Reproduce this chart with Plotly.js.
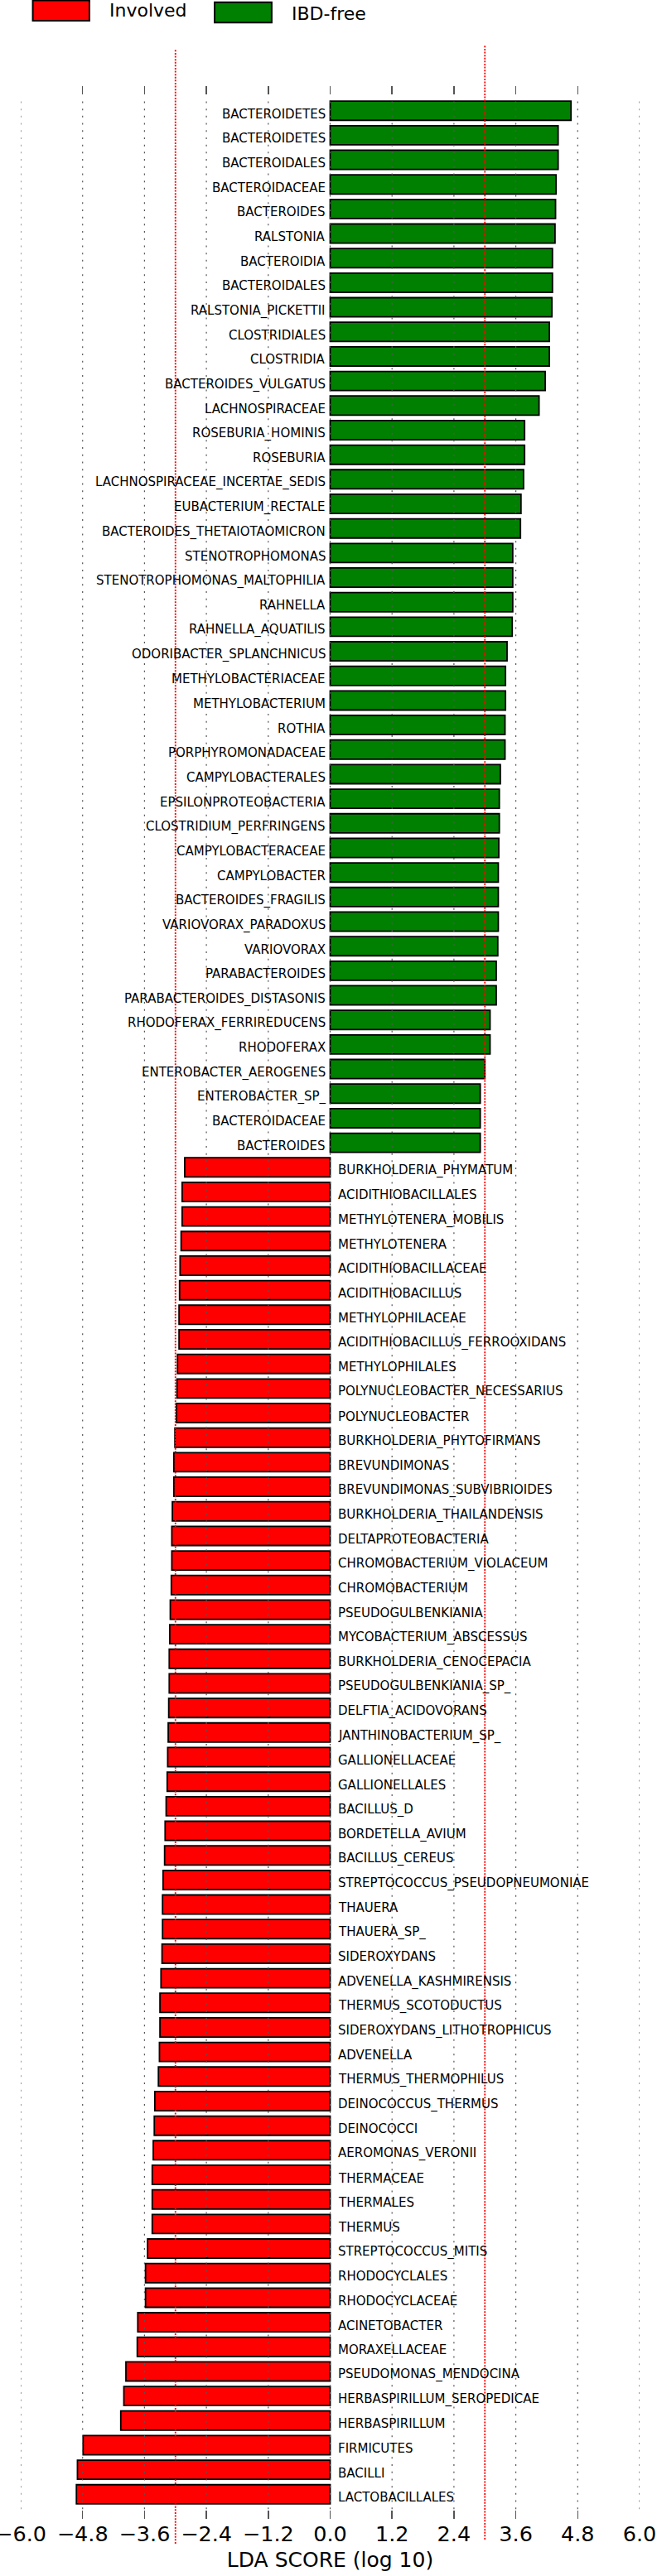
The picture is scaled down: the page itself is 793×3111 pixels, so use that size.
<!DOCTYPE html>
<html>
<head>
<meta charset="utf-8">
<script src="https://cdn.plot.ly/plotly-3.0.1.min.js"></script>
<style>
  body { margin: 0; background: #fff; }
  #plot { width: 793px; height: 3111px; }
</style>
</head>
<body>
<div id="plot"></div>
<script>
// IBD-free (green) features, top to bottom
var freeNames = [
  'BACTEROIDETES', 'BACTEROIDETES', 'BACTEROIDALES', 'BACTEROIDACEAE', 'BACTEROIDES',
  'RALSTONIA', 'BACTEROIDIA', 'BACTEROIDALES', 'RALSTONIA_PICKETTII', 'CLOSTRIDIALES',
  'CLOSTRIDIA', 'BACTEROIDES_VULGATUS', 'LACHNOSPIRACEAE', 'ROSEBURIA_HOMINIS', 'ROSEBURIA',
  'LACHNOSPIRACEAE_INCERTAE_SEDIS', 'EUBACTERIUM_RECTALE', 'BACTEROIDES_THETAIOTAOMICRON',
  'STENOTROPHOMONAS', 'STENOTROPHOMONAS_MALTOPHILIA', 'RAHNELLA', 'RAHNELLA_AQUATILIS',
  'ODORIBACTER_SPLANCHNICUS', 'METHYLOBACTERIACEAE', 'METHYLOBACTERIUM', 'ROTHIA',
  'PORPHYROMONADACEAE', 'CAMPYLOBACTERALES', 'EPSILONPROTEOBACTERIA', 'CLOSTRIDIUM_PERFRINGENS',
  'CAMPYLOBACTERACEAE', 'CAMPYLOBACTER', 'BACTEROIDES_FRAGILIS', 'VARIOVORAX_PARADOXUS',
  'VARIOVORAX', 'PARABACTEROIDES', 'PARABACTEROIDES_DISTASONIS', 'RHODOFERAX_FERRIREDUCENS',
  'RHODOFERAX', 'ENTEROBACTER_AEROGENES', 'ENTEROBACTER_SP_', 'BACTEROIDACEAE', 'BACTEROIDES'
];
var freeLDA = [
  4.67, 4.42, 4.42, 4.38, 4.37,
  4.36, 4.31, 4.31, 4.30, 4.25,
  4.25, 4.17, 4.05, 3.77, 3.77,
  3.75, 3.70, 3.69,
  3.54, 3.54, 3.54, 3.53,
  3.43, 3.40, 3.40, 3.39,
  3.39, 3.30, 3.28, 3.28,
  3.27, 3.26, 3.26, 3.26,
  3.25, 3.22, 3.22, 3.10,
  3.10, 3.00, 2.91, 2.91, 2.91
];

// Involved (red) features, top to bottom
var involvedNames = [
  'BURKHOLDERIA_PHYMATUM', 'ACIDITHIOBACILLALES', 'METHYLOTENERA_MOBILIS', 'METHYLOTENERA',
  'ACIDITHIOBACILLACEAE', 'ACIDITHIOBACILLUS', 'METHYLOPHILACEAE', 'ACIDITHIOBACILLUS_FERROOXIDANS',
  'METHYLOPHILALES', 'POLYNUCLEOBACTER_NECESSARIUS', 'POLYNUCLEOBACTER', 'BURKHOLDERIA_PHYTOFIRMANS',
  'BREVUNDIMONAS', 'BREVUNDIMONAS_SUBVIBRIOIDES', 'BURKHOLDERIA_THAILANDENSIS', 'DELTAPROTEOBACTERIA',
  'CHROMOBACTERIUM_VIOLACEUM', 'CHROMOBACTERIUM', 'PSEUDOGULBENKIANIA', 'MYCOBACTERIUM_ABSCESSUS',
  'BURKHOLDERIA_CENOCEPACIA', 'PSEUDOGULBENKIANIA_SP_', 'DELFTIA_ACIDOVORANS', 'JANTHINOBACTERIUM_SP_',
  'GALLIONELLACEAE', 'GALLIONELLALES', 'BACILLUS_D', 'BORDETELLA_AVIUM', 'BACILLUS_CEREUS',
  'STREPTOCOCCUS_PSEUDOPNEUMONIAE', 'THAUERA', 'THAUERA_SP_', 'SIDEROXYDANS', 'ADVENELLA_KASHMIRENSIS',
  'THERMUS_SCOTODUCTUS', 'SIDEROXYDANS_LITHOTROPHICUS', 'ADVENELLA', 'THERMUS_THERMOPHILUS',
  'DEINOCOCCUS_THERMUS', 'DEINOCOCCI', 'AEROMONAS_VERONII', 'THERMACEAE', 'THERMALES', 'THERMUS',
  'STREPTOCOCCUS_MITIS', 'RHODOCYCLALES', 'RHODOCYCLACEAE', 'ACINETOBACTER', 'MORAXELLACEAE',
  'PSEUDOMONAS_MENDOCINA', 'HERBASPIRILLUM_SEROPEDICAE', 'HERBASPIRILLUM', 'FIRMICUTES', 'BACILLI',
  'LACTOBACILLALES'
];
var involvedLDA = [
  -2.82, -2.87, -2.87, -2.89,
  -2.91, -2.92, -2.93, -2.93,
  -2.96, -2.97, -2.98, -3.01,
  -3.03, -3.03, -3.06, -3.07,
  -3.07, -3.08, -3.10, -3.11,
  -3.12, -3.12, -3.13, -3.14,
  -3.15, -3.16, -3.18, -3.20, -3.21,
  -3.24, -3.25, -3.25, -3.26, -3.28,
  -3.30, -3.30, -3.31, -3.33,
  -3.40, -3.41, -3.43, -3.45, -3.45, -3.45,
  -3.54, -3.58, -3.58, -3.73, -3.74,
  -3.96, -4.00, -4.06, -4.79, -4.90,
  -4.92
];

var tickVals = [-6.0, -4.8, -3.6, -2.4, -1.2, 0.0, 1.2, 2.4, 3.6, 4.8, 6.0];
var thresholds = [-3.0, 3.0];

var freePos = freeNames.map(function (d, i) { return i; });
var involvedPos = involvedNames.map(function (d, i) { return freeNames.length + i; });

var font = 'DejaVu Sans, sans-serif';

var data = [
  {
    type: 'bar', orientation: 'h', name: 'IBD-free',
    x: freeLDA, y: freePos, width: 0.78,
    marker: {color: '#008000', line: {color: '#000', width: 1.8}},
    hoverinfo: 'skip'
  },
  {
    type: 'bar', orientation: 'h', name: 'Involved',
    x: involvedLDA, y: involvedPos, width: 0.78,
    marker: {color: '#ff0000', line: {color: '#000', width: 1.8}},
    hoverinfo: 'skip'
  }
];

// feature labels next to the zero line
var annotations = [];
freeNames.forEach(function (n, i) {
  annotations.push({x: 0, y: freePos[i], xref: 'x', yref: 'y', text: n, showarrow: false,
    xanchor: 'right', xshift: -4, yshift: -4, font: {family: font, size: 15, color: '#000'}});
});
involvedNames.forEach(function (n, i) {
  annotations.push({x: 0, y: involvedPos[i], xref: 'x', yref: 'y', text: n, showarrow: false,
    xanchor: 'left', xshift: 7, yshift: -4, font: {family: font, size: 15, color: '#000'}});
});

// legend drawn by hand: patch + label
annotations.push({x: 0.140, y: 1.0310, xref: 'paper', yref: 'paper', text: 'Involved', showarrow: false,
  xanchor: 'left', yanchor: 'middle', font: {family: font, size: 22, color: '#000'}});
annotations.push({x: 0.435, y: 1.0298, xref: 'paper', yref: 'paper', text: 'IBD-free', showarrow: false,
  xanchor: 'left', yanchor: 'middle', font: {family: font, size: 22, color: '#000'}});

var shapes = [];
// dotted grid on top of the bars
tickVals.forEach(function (v) {
  shapes.push({type: 'line', xref: 'x', yref: 'paper', x0: v, x1: v, y0: 0.004, y1: 0.995,
    layer: 'above', line: {color: '#555', width: 1.2, dash: '2px,6.7px'}});
});
// threshold lines
shapes.push({type: 'line', xref: 'x', yref: 'paper', x0: thresholds[0], x1: thresholds[0],
  y0: -0.0102, y1: 1.0153, layer: 'above', line: {color: '#ff0000', width: 1.8, dash: '2px,1.6px'}});
shapes.push({type: 'line', xref: 'x', yref: 'paper', x0: thresholds[1], x1: thresholds[1],
  y0: -0.0085, y1: 1.0170, layer: 'above', line: {color: '#ff0000', width: 1.8, dash: '2px,1.6px'}});
// legend patches
shapes.push({type: 'rect', xref: 'paper', yref: 'paper', x0: 0.0195, x1: 0.1110, y0: 1.0269, y1: 1.0352,
  fillcolor: '#ff0000', line: {color: '#000', width: 2}});
shapes.push({type: 'rect', xref: 'paper', yref: 'paper', x0: 0.3133, x1: 0.4055, y0: 1.0261, y1: 1.0345,
  fillcolor: '#008000', line: {color: '#000', width: 2}});

var layout = {
  width: 793,
  height: 3111,
  margin: {l: 25.3, r: 20.6, t: 104, b: 69},
  paper_bgcolor: '#fff',
  plot_bgcolor: '#fff',
  showlegend: false,
  bargap: 0,
  font: {family: font, color: '#000'},
  xaxis: {
    range: [-6, 6],
    tickvals: tickVals,
    tickformat: '.1f',
    ticks: 'inside',
    ticklen: 10,
    tickwidth: 1.5,
    tickcolor: '#555',
    mirror: 'ticks',
    showline: false,
    showgrid: false,
    zeroline: false,
    ticklabeloverflow: 'allow',
    tickfont: {family: font, size: 25.5, color: '#000'},
    title: {text: 'LDA SCORE (log 10)', font: {family: font, size: 25, color: '#000'}, standoff: 8},
    automargin: false
  },
  yaxis: {
    range: [98, -1],
    showticklabels: false,
    showgrid: false,
    zeroline: false,
    showline: false,
    ticks: ''
  },
  annotations: annotations,
  shapes: shapes
};

Plotly.newPlot('plot', data, layout, {displayModeBar: false, staticPlot: true});
</script>
</body>
</html>
